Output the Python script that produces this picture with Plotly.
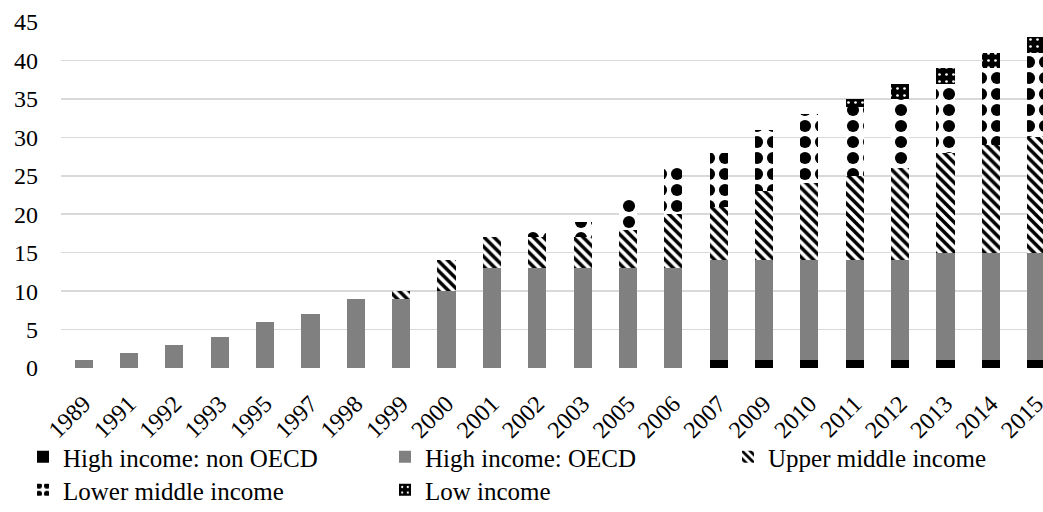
import plotly.graph_objects as go

years = ["1989", "1991", "1992", "1993", "1995", "1997", "1998", "1999", "2000", "2001", "2002",
         "2003", "2005", "2006", "2007", "2009", "2010", "2011", "2012", "2013", "2014", "2015"]
high_non_oecd = [0, 0, 0, 0, 0, 0, 0, 0, 0, 0, 0, 0, 0, 0, 1, 1, 1, 1, 1, 1, 1, 1]
high_oecd = [1, 2, 3, 4, 6, 7, 9, 9, 10, 13, 13, 13, 13, 13, 13, 13, 13, 13, 13, 14, 14, 14]
upper_middle = [0, 0, 0, 0, 0, 0, 0, 1, 4, 4, 4, 4, 5, 7, 7, 9, 10, 11, 12, 13, 14, 15]
lower_middle = [0, 0, 0, 0, 0, 0, 0, 0, 0, 0, 1, 2, 4, 6, 7, 8, 9, 9, 9, 9, 10, 11]
low_income = [0, 0, 0, 0, 0, 0, 0, 0, 0, 0, 0, 0, 0, 0, 0, 0, 0, 1, 2, 2, 2, 2]

y_ticks = [0, 5, 10, 15, 20, 25, 30, 35, 40, 45]

FONT = "Liberation Serif, 'Times New Roman', 'DejaVu Serif', serif"
W, H = 1043, 512

series = [
    ("High income: non OECD", high_non_oecd, dict(color="#000000"), "legend"),
    ("High income: OECD", high_oecd, dict(color="#808080"), "legend2"),
    ("Upper middle income", upper_middle,
     dict(color="#000000", pattern=dict(shape="\\", fgcolor="#000000", bgcolor="#ffffff",
                                        fgopacity=1, size=7, solidity=0.5, fillmode="replace")),
     "legend3"),
    ("Lower middle income", lower_middle,
     dict(color="#000000", pattern=dict(shape=".", fgcolor="#000000", bgcolor="#ffffff",
                                        fgopacity=1, size=16, solidity=0.45, fillmode="replace")),
     "legend4"),
    ("Low income", low_income,
     dict(color="#000000", pattern=dict(shape=".", fgcolor="#ffffff", bgcolor="#000000",
                                        fgopacity=1, size=7, solidity=0.12, fillmode="replace")),
     "legend5"),
]

fig = go.Figure()
for name, vals, marker, lg in series:
    marker = dict(marker)
    marker["line"] = dict(width=0)
    fig.add_trace(go.Bar(x=years, y=vals, name=name, marker=marker, legend=lg))


def lg(xpx, ypx):
    return dict(xref="container", yref="container", x=xpx / W, y=1 - ypx / H,
                xanchor="left", yanchor="middle", bgcolor="rgba(0,0,0,0)", borderwidth=0,
                font=dict(family=FONT, size=25, color="#000000"), itemwidth=30,
                itemclick=False, itemdoubleclick=False)


fig.update_layout(
    width=W, height=H, autosize=False,
    template="none",
    barmode="stack", bargap=0.6,
    paper_bgcolor="#ffffff", plot_bgcolor="#ffffff",
    margin=dict(l=61, r=0, t=22, b=144, pad=0, autoexpand=False),
    font=dict(family=FONT, size=24, color="#000000"),
    showlegend=True,
    legend=lg(23, 457),
    legend2=lg(385, 457),
    legend3=lg(728, 457),
    legend4=lg(23, 490),
    legend5=lg(385, 490),
    xaxis=dict(type="category", range=[-0.5, 21.15], tickangle=-45, showgrid=False,
               showline=False, zeroline=False, ticks="", automargin=False,
               ticklabelstandoff=16,
               tickfont=dict(family=FONT, size=24, color="#000000")),
    yaxis=dict(range=[0, 45], tickvals=y_ticks, showgrid=True, gridcolor="#d9d9d9",
               gridwidth=1.5, zeroline=False, showline=False, ticks="", automargin=False,
               ticklabelstandoff=22,
               tickfont=dict(family=FONT, size=24, color="#000000")),
)

fig.write_html("out.html", config={"displayModeBar": False, "staticPlot": True},
               post_script="document.body.style.margin='0';")
